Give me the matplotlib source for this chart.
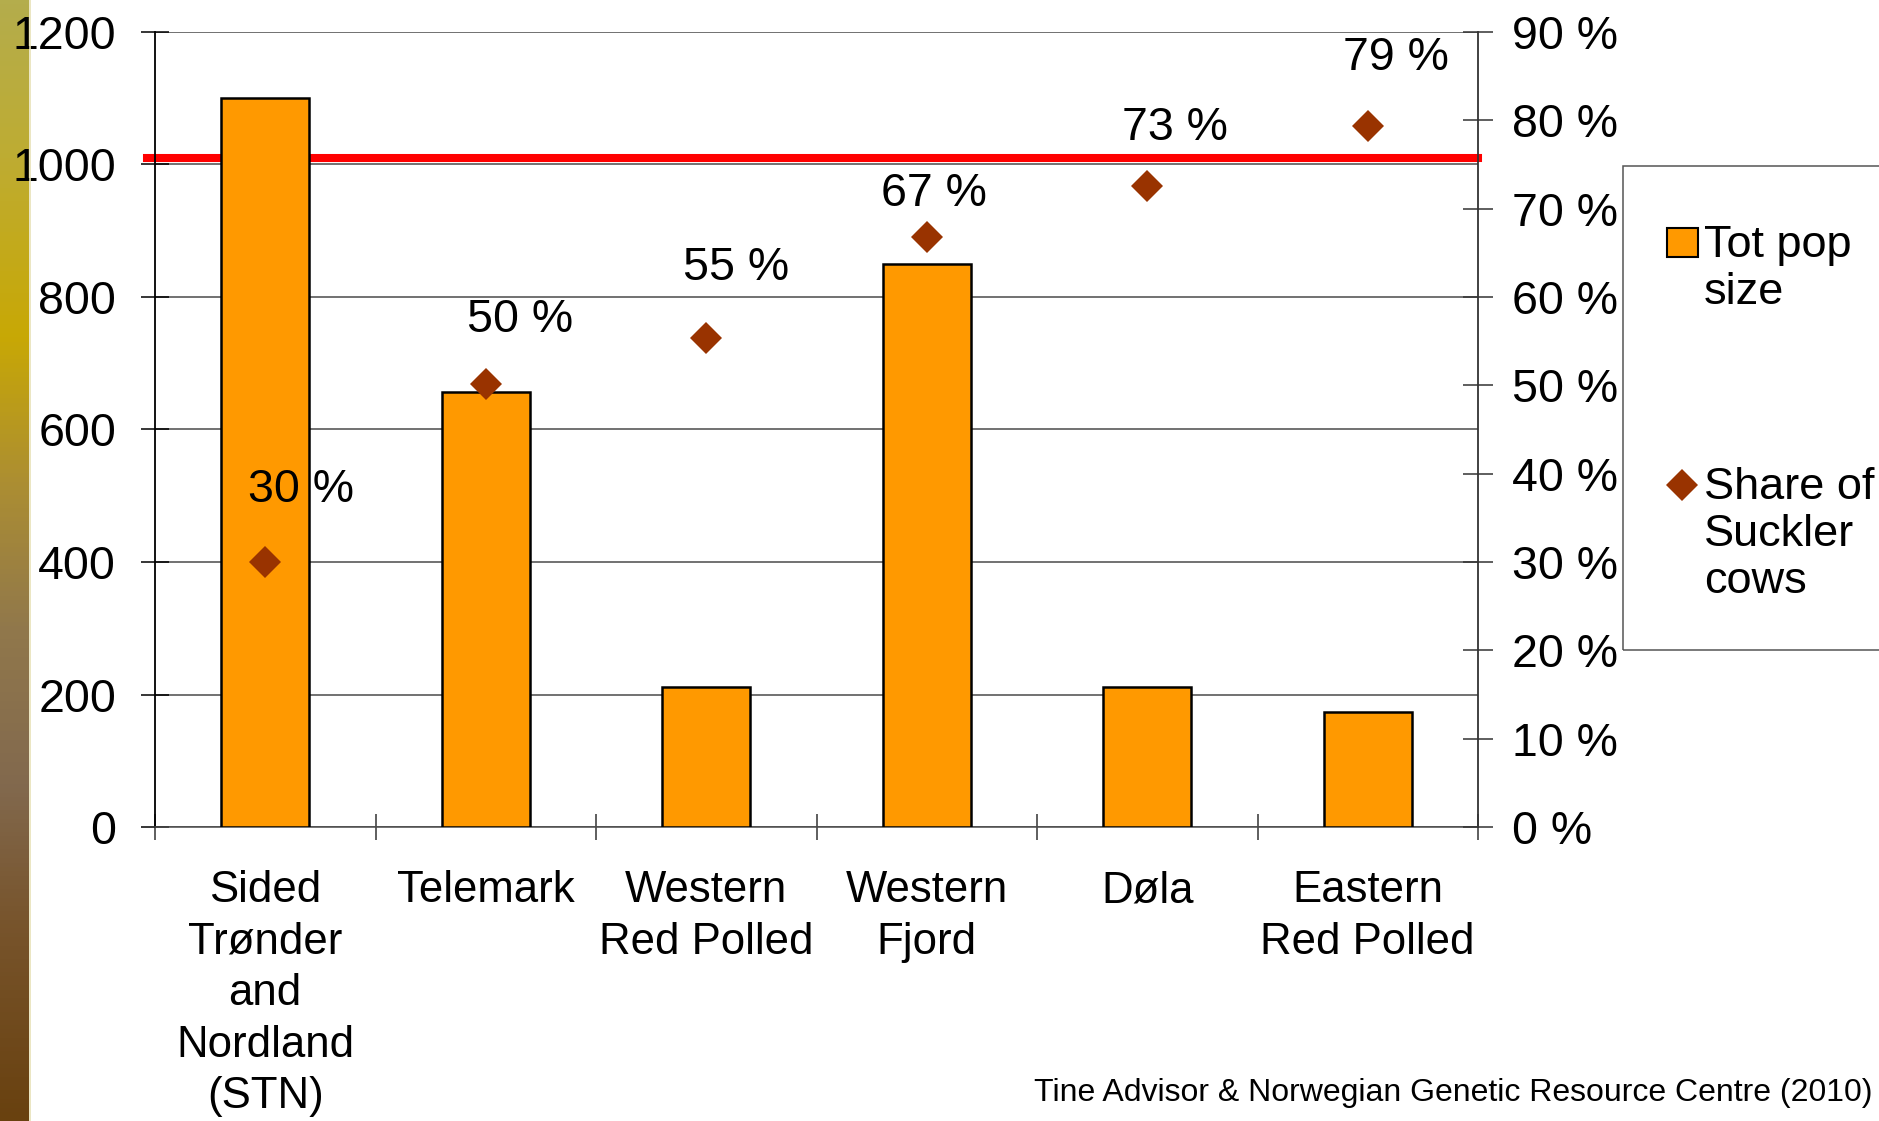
import matplotlib.pyplot as plt
import numpy as np
from matplotlib.colors import LinearSegmentedColormap
from matplotlib.patches import Rectangle
from matplotlib.lines import Line2D

# ===== data =====
breeds = ["Sided\nTrønder\nand\nNordland\n(STN)", "Telemark", "Western\nRed Polled",
          "Western\nFjord", "Døla", "Eastern\nRed Polled"]
pop_size = [1100, 656, 211, 850, 211, 173]          # Tot pop size
suckler_share = [30, 50.2, 55.4, 66.8, 72.6, 79.4]  # Share of suckler cows (%)
reference_level = 1010                              # red horizontal line
footer = "Tine Advisor & Norwegian Genetic Resource Centre (2010)"

# label offsets (pixels) from each diamond
label_dx = [36, 34, 30, 7, 28, 28]
label_dy = [72, 64, 70, 43, 58, 68]

plt.rcParams["font.family"] = ["Liberation Sans", "DejaVu Sans"]

W, H = 1879, 1121
fig = plt.figure(figsize=(W / 100, H / 100), dpi=100)
fig.patch.set_facecolor("white")

# ===== left gradient strip =====
strip = fig.add_axes([0, 0, 29 / W, 1])
cmap = LinearSegmentedColormap.from_list("strip", [
    (0.00, (180 / 255, 173 / 255, 76 / 255)),
    (0.14, (190 / 255, 172 / 255, 50 / 255)),
    (0.30, (200 / 255, 168 / 255, 5 / 255)),
    (0.43, (172 / 255, 142 / 255, 50 / 255)),
    (0.56, (145 / 255, 120 / 255, 75 / 255)),
    (0.70, (130 / 255, 105 / 255, 78 / 255)),
    (0.82, (120 / 255, 85 / 255, 45 / 255)),
    (1.00, (105 / 255, 65 / 255, 15 / 255)),
])
strip.imshow(np.linspace(0, 1, 256).reshape(-1, 1), cmap=cmap, aspect="auto")
strip.set_axis_off()
fig.add_artist(Line2D([29.5 / W, 29.5 / W], [0, 1], color="#e8e2b8", lw=1.2,
                      transform=fig.transFigure))

# ===== main axes =====
L, R, T, B = 155, 1478, 32, 827
ax = fig.add_axes([L / W, 1 - B / H, (R - L) / W, (B - T) / H])
x = np.arange(len(breeds))

ax.bar(x, pop_size, width=0.4, color="#FF9900", edgecolor="black", linewidth=1.8, zorder=3)
ax.axhline(reference_level, xmin=-0.006, xmax=1, color="#ff0000", lw=5.8, zorder=2,
           clip_on=False)

ax.set_xlim(-0.5, len(breeds) - 0.5)
ax.set_ylim(0, 1200)
ax.set_yticks(np.arange(0, 1201, 200))
ax.yaxis.grid(True, color="#4a4a4a", lw=1.1, zorder=1)
ax.set_axisbelow(True)

ax.set_xticks(x)
ax.set_xticklabels(breeds, fontsize=31.5, linespacing=1.33)
ax.set_xticks(np.arange(-0.5, len(breeds), 1), minor=True)
ax.tick_params(axis="x", which="major", length=0, pad=31)
ax.tick_params(axis="x", which="minor", direction="inout", length=19, width=1.1,
               color="#333333")
ax.tick_params(axis="y", direction="inout", length=20, width=1.1, labelsize=33.5, pad=18)

for s in ["top", "right"]:
    ax.spines[s].set_visible(False)
ax.spines["left"].set_color("black")
ax.spines["left"].set_linewidth(1.3)
ax.spines["bottom"].set_color("#4a4a4a")
ax.spines["bottom"].set_linewidth(1.1)

# ===== secondary axis: share of suckler cows =====
ax2 = ax.twinx()
ax2.set_ylim(0, 90)
ax2.set_yticks(np.arange(0, 91, 10))
ax2.set_yticklabels([f"{v} %" for v in range(0, 91, 10)])
ax2.tick_params(axis="y", direction="inout", length=21.6, width=1.1, labelsize=33.5,
                pad=14, color="#333333")
for s in ["top", "left", "bottom"]:
    ax2.spines[s].set_visible(False)
ax2.spines["right"].set_color("#333333")
ax2.spines["right"].set_linewidth(1.3)

ax2.plot(x, suckler_share, linestyle="none", marker="D", markersize=16.5,
         color="#993300", markeredgewidth=0, zorder=4)
for i, v in enumerate(suckler_share):
    ax2.annotate(f"{v:.0f} %", xy=(x[i], v), xytext=(label_dx[i], label_dy[i]),
                 textcoords="offset pixels", ha="center", va="center", fontsize=33.5)

# ===== legend (drawn by hand to match box extending past the edge) =====
fig.add_artist(Rectangle((1623 / W, 1 - 650 / H), 300 / W, (650 - 166) / H,
                         transform=fig.transFigure, fill=False, edgecolor="#555555",
                         lw=1.1, clip_on=False))
fig.add_artist(Rectangle((1667 / W, 1 - 257 / H), 31 / W, 29 / H,
                         transform=fig.transFigure, facecolor="#FF9900",
                         edgecolor="black", lw=1.5))
fig.add_artist(Line2D([1682 / W], [1 - 485 / H], marker="D", markersize=16.5,
                      color="#993300", markeredgewidth=0, linestyle="none",
                      transform=fig.transFigure))
fig.text(1704 / W, 1 - 225 / H, "Tot pop\nsize", ha="left", va="top", fontsize=32.5,
         linespacing=1.18)
fig.text(1704 / W, 1 - 467 / H, "Share of\nSuckler\ncows", ha="left", va="top",
         fontsize=32.5, linespacing=1.18)

fig.text(1872 / W, 1 - 1093 / H, footer, ha="right", va="center", fontsize=23,
         family=["Liberation Sans Narrow", "Liberation Sans", "DejaVu Sans"])

fig.savefig("out.png", dpi=100, facecolor="white")
